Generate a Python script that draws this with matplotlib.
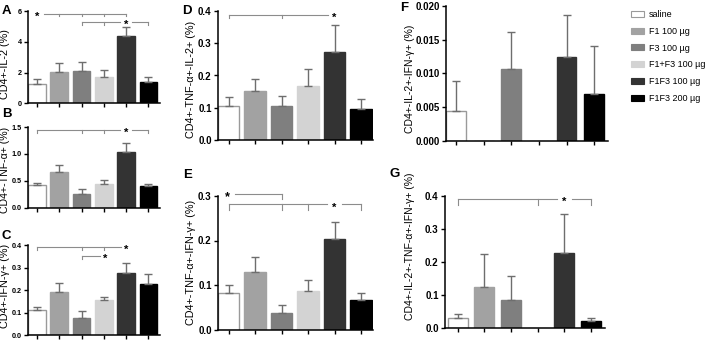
import numpy as np
import matplotlib
matplotlib.use("Agg")
import matplotlib.pyplot as plt
from matplotlib.patches import Patch
from matplotlib.ticker import FixedLocator, FormatStrFormatter

plt.rcParams['font.family'] = ['Liberation Sans', 'DejaVu Sans']

# ---------------- data ----------------
groups = ['saline', 'F1 100 µg', 'F3 100 µg', 'F1+F3 100 µg', 'F1F3 100 µg', 'F1F3 200 µg']
colors = ['#ffffff', '#a2a2a2', '#7f7f7f', '#d3d3d3', '#333333', '#000000']
edges = ['#9a9a9a', '#a2a2a2', '#7f7f7f', '#d3d3d3', '#333333', '#000000']

il2_mean = [1.25, 2.05, 2.08, 1.73, 4.35, 1.38]
il2_err = [0.32, 0.55, 0.60, 0.44, 0.60, 0.32]

tnf_mean = [0.41, 0.66, 0.26, 0.43, 1.03, 0.40]
tnf_err = [0.05, 0.13, 0.09, 0.09, 0.18, 0.03]

ifn_mean = [0.114, 0.192, 0.077, 0.156, 0.278, 0.229]
ifn_err = [0.013, 0.039, 0.030, 0.014, 0.045, 0.042]

tnf_il2_mean = [0.106, 0.151, 0.106, 0.169, 0.271, 0.098]
tnf_il2_err = [0.028, 0.037, 0.032, 0.050, 0.084, 0.028]

tnf_ifn_mean = [0.083, 0.129, 0.036, 0.087, 0.204, 0.067]
tnf_ifn_err = [0.017, 0.035, 0.019, 0.024, 0.037, 0.015]

il2_ifn_mean = [0.0044, 0.0, 0.0107, 0.0, 0.0124, 0.0070]
il2_ifn_err = [0.0044, 0.0, 0.0054, 0.0, 0.0062, 0.0071]

triple_mean = [0.032, 0.125, 0.085, 0.0, 0.226, 0.023]
triple_err = [0.011, 0.100, 0.073, 0.0, 0.118, 0.009]

W, H = 708, 340
fig = plt.figure(figsize=(W / 100, H / 100), dpi=100)


def make_axes(left, right, top, bottom):
    return fig.add_axes([left / W, 1 - bottom / H, (right - left) / W, (bottom - top) / H])


def draw_panel(ax, means, errs, ylim, yticks, fmt, xlim, width, tick_fs, ylabel, label_xy, label_fs):
    x = np.arange(len(means))
    ax.bar(x, means, width=width, color=colors, edgecolor=edges, linewidth=1.0, zorder=2)
    for xi, m, e in zip(x, means, errs):
        if m > 0 and e > 0:
            ax.errorbar([xi], [m], yerr=[[0], [e]], fmt='none', ecolor='#6e6e6e',
                        elinewidth=1.0, capsize=3.2, capthick=1.0, zorder=3)
    ax.set_xlim(*xlim)
    ax.set_ylim(*ylim)
    ax.yaxis.set_major_locator(FixedLocator(yticks))
    ax.yaxis.set_major_formatter(FormatStrFormatter(fmt))
    ax.set_xticks(x)
    ax.set_xticklabels([])
    for s in ['top', 'right']:
        ax.spines[s].set_visible(False)
    for s in ['left', 'bottom']:
        ax.spines[s].set_linewidth(1.1)
    ax.tick_params(axis='y', length=3, width=1.0, labelsize=tick_fs, pad=1.5)
    ax.tick_params(axis='x', length=3, width=1.0)
    for t in ax.get_yticklabels():
        t.set_fontweight('bold')
    ax.set_ylabel(ylabel, fontsize=label_fs)
    ax.yaxis.set_label_coords(*label_xy)
    ax.patch.set_alpha(0)


def sig(ax, y, x0, x1, ticks, dy, star=None, gap=0.28, star_dy=0.0):
    kw = dict(color='#8c8c8c', lw=0.8, clip_on=False, zorder=4)
    if star is not None and x0 < star < x1:
        ax.plot([x0, star - gap], [y, y], **kw)
        ax.plot([star + gap, x1], [y, y], **kw)
    else:
        ax.plot([x0, x1], [y, y], **kw)
    for t in ticks:
        ax.plot([t, t], [y, y - dy], **kw)
    if star is not None:
        ax.text(star, y + star_dy, '*', ha='center', va='center', fontsize=8,
                fontweight='bold', clip_on=False, zorder=5)


# ---- A ----
axA = make_axes(28, 159.6, 11, 103.3)
draw_panel(axA, il2_mean, il2_err, (0, 6), [0, 2, 4, 6], '%d', (-0.4, 5.5), 0.8, 5.2,
           'CD4+-IL-2 (%)', (-0.135, 0.42), 7.8)
sig(axA, 5.8, 0.3, 4, [1, 2, 3, 4], 0.15, star=0.0, star_dy=-0.2)
sig(axA, 5.3, 2, 5, [2, 3, 5], 0.2, star=4, star_dy=-0.2)

# ---- B ----
axB = make_axes(28, 159.6, 127, 207.5)
draw_panel(axB, tnf_mean, tnf_err, (0, 1.5), [0, 0.5, 1.0, 1.5], '%.1f', (-0.4, 5.5), 0.8, 5.2,
           'CD4+-TNF-α+ (%)', (-0.135, 0.47), 7.6)
sig(axB, 1.44, 0, 5, [0, 2, 3, 5], 0.06, star=4, star_dy=-0.05)

# ---- C ----
axC = make_axes(28, 159.6, 245.3, 335.3)
draw_panel(axC, ifn_mean, ifn_err, (0, 0.4), [0, 0.1, 0.2, 0.3, 0.4], '%.1f', (-0.4, 5.5), 0.8, 5.2,
           'CD4+-IFN-γ+ (%)', (-0.135, 0.55), 7.8)
sig(axC, 0.392, 0, 3.75, [0, 2, 3], 0.015)
sig(axC, 0.352, 2, 2.85, [2], 0.015)
axC.text(4.0, 0.392 - 0.012, '*', ha='center', va='center', fontsize=8, fontweight='bold')
axC.text(3.07, 0.352 - 0.012, '*', ha='center', va='center', fontsize=8, fontweight='bold')

# ---- D ----
axD = make_axes(218, 373, 10.7, 140.3)
draw_panel(axD, tnf_il2_mean, tnf_il2_err, (0, 0.4), [0, 0.1, 0.2, 0.3, 0.4], '%.1f', (-0.4, 5.45),
           0.8, 7, 'CD4+-TNF-α+-IL-2+ (%)', (-0.14, 0.47), 7.8)
sig(axD, 0.388, 0, 3.75, [0, 2], 0.012)
axD.text(3.97, 0.388 - 0.009, '*', ha='center', va='center', fontsize=8, fontweight='bold')

# ---- E ----
axE = make_axes(218, 373, 196, 329.5)
draw_panel(axE, tnf_ifn_mean, tnf_ifn_err, (0, 0.3), [0, 0.1, 0.2, 0.3], '%.1f', (-0.4, 5.45),
           0.8, 7, 'CD4+-TNF-α+-IFN-γ+ (%)', (-0.14, 0.5), 7.8)
sig(axE, 0.305, 0.25, 2, [2], 0.012)
axE.text(-0.04, 0.305 - 0.008, '*', ha='center', va='center', fontsize=9, fontweight='bold',
         clip_on=False)
sig(axE, 0.281, 0, 5, [0, 2, 3, 5], 0.012, star=4, star_dy=-0.008)

# ---- F ----
axF = make_axes(446, 608, 6, 140.7)
draw_panel(axF, il2_ifn_mean, il2_ifn_err, (0, 0.02), [0, 0.005, 0.010, 0.015, 0.020], '%.3f',
           (-0.36, 5.5), 0.72, 7, 'CD4+-IL-2+-IFN-γ+ (%)', (-0.19, 0.46), 7.5)

# ---- G ----
axG = make_axes(445, 605, 195.7, 328.3)
draw_panel(axG, triple_mean, triple_err, (0, 0.4), [0, 0.1, 0.2, 0.3, 0.4], '%.1f',
           (-0.48, 5.52), 0.75, 7, 'CD4+-IL-2+-TNF-α+-IFN-γ+ (%)', (-0.19, 0.62), 7.5)
sig(axG, 0.389, 0, 5, [0, 3, 5], 0.018, star=4, star_dy=-0.008)

# ---- panel letters ----
for letter, (px, py) in {'A': (6.5, 11), 'B': (6.5, 114), 'C': (6.5, 236), 'D': (187, 11),
                         'E': (188, 175), 'F': (404, 8), 'G': (395, 174)}.items():
    fig.text(px / W, 1 - py / H, letter, fontsize=9.5, fontweight='bold', ha='center', va='center')

# ---- legend ----
handles = [Patch(facecolor=c, edgecolor=e, linewidth=0.8) for c, e in zip(colors, edges)]
fig.legend(handles, groups, loc='upper left', bbox_to_anchor=(631 / W, 1 - 10 / H),
           frameon=False, fontsize=6.5, handlelength=1.45, handleheight=0.62,
           handletextpad=0.55, labelspacing=0.86, borderaxespad=0, borderpad=0)

fig.savefig('out.png', dpi=100)
